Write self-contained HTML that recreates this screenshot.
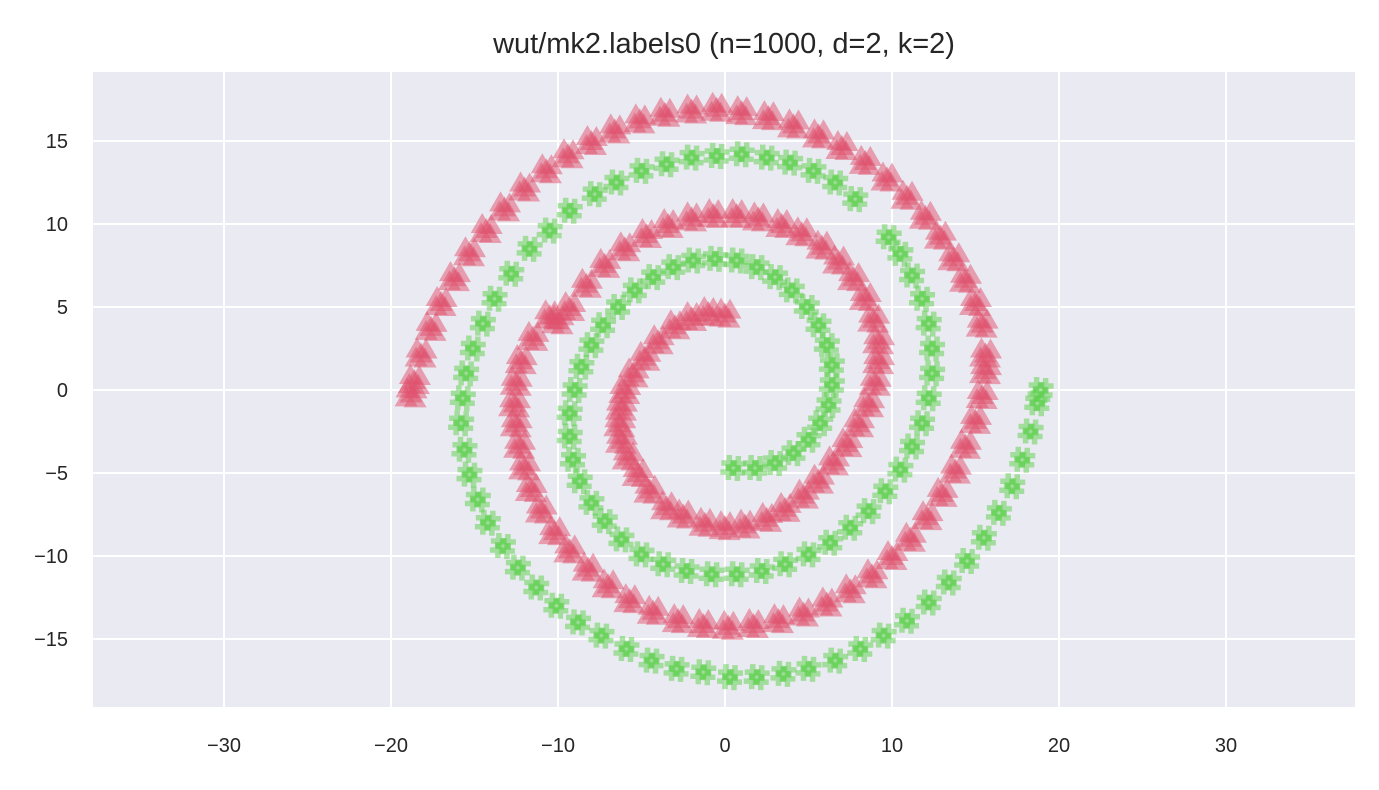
<!DOCTYPE html>
<html><head><meta charset="utf-8"><style>
body{margin:0;background:#fff;}
svg text{font-family:"Liberation Sans",sans-serif;fill:#262626;}
</style></head><body>
<svg id="chart" width="1379" height="785" xmlns="http://www.w3.org/2000/svg">
<rect x="0" y="0" width="1379" height="785" fill="#fff"/>
<text x="724" y="53" font-size="29" text-anchor="middle">wut/mk2.labels0 (n=1000, d=2, k=2)</text>
<rect x="93" y="72" width="1262" height="635" fill="#eaeaf2"/>
<g id="grid"></g><g id="marks"></g><g id="ticks"></g>
</svg>
<script>
const xTicks=[-30,-20,-10,0,10,20,30];
const yTicks=[15,10,5,0,-5,-10,-15];
const redX=[0,-1,-2,-3,-4,-4.8,-5.5,-6,-6.2,-6.3,-6.2,-5.8,-5.2,-4.5,-3.5,-2.5,-1.2,0,1.2,2.5,3.6,4.7,5.6,6.5,7.3,8,8.6,9,9.2,9.2,8.9,8.4,7.7,6.8,5.8,4.6,3.4,2,0.7,-0.7,-2,-3.4,-4.7,-6,-7.2,-8.3,-9.3,-10,-10.5,-11.5,-12.2,-12.5,-12.6,-12.5,-12.3,-12,-11.6,-11,-10.2,-9.3,-8.2,-7,-5.7,-4.3,-2.8,-1.3,0.2,1.7,3.2,4.7,6.1,7.5,8.8,10,11.1,12.1,13,13.8,14.4,15,15.4,15.6,15.6,15.4,15,14.4,13.7,12.9,12,10.9,9.7,8.4,7,5.6,4.1,2.6,1,-0.5,-2,-3.6,-5.1,-6.6,-8,-9.4,-10.7,-12,-13.2,-14.3,-15.3,-16.2,-17,-17.6,-18.2,-18.6,-18.8];
const redY=[4.6,4.7,4.4,3.9,3,2,1,0,-1,-2,-3,-4,-5,-6,-7,-7.5,-8,-8.2,-8.1,-7.7,-7.1,-6.3,-5.4,-4.3,-3.2,-2,-0.8,0.5,1.8,3,4.3,5.6,6.8,7.8,8.7,9.5,10,10.4,10.6,10.6,10.4,10,9.4,8.6,7.6,6.4,5,4.2,4.5,3.2,1.8,0.5,-0.8,-2,-3.3,-4.6,-5.9,-7.2,-8.5,-9.6,-10.7,-11.7,-12.6,-13.3,-13.8,-14.1,-14.2,-14.1,-13.8,-13.4,-12.8,-12,-11.1,-10,-8.9,-7.6,-6.2,-4.8,-3.3,-1.8,-0.3,1.2,2.2,4,5.3,6.7,8,9.3,10.5,11.7,12.8,13.8,14.7,15.4,16,16.5,16.8,17,16.9,16.7,16.3,15.7,15,14.2,13.3,12.2,11,9.7,8.3,6.8,5.3,3.8,2.2,0.6,-0.2];
const greenX=[0.5,1.8,3,4.1,5,5.7,6.2,6.4,6.4,6.1,5.6,4.9,4,3,1.9,0.7,-0.6,-1.9,-3.1,-4.3,-5.4,-6.4,-7.3,-8,-8.6,-9,-9.3,-9.3,-9.1,-8.7,-8,-7.2,-6.2,-5,-3.7,-2.3,-0.8,0.7,2.2,3.6,5,6.3,7.5,8.6,9.6,10.5,11.2,11.8,12.2,12.4,12.4,12.2,11.8,11.2,10.5,9.8,7.8,6.6,5.3,3.9,2.5,1,-0.5,-2,-3.5,-5,-6.5,-7.8,-9.3,-10.5,-11.7,-12.8,-13.8,-14.5,-15.1,-15.5,-15.7,-15.8,-15.6,-15.3,-14.8,-14.2,-13.3,-12.4,-11.3,-10.1,-8.8,-7.4,-5.9,-4.4,-2.9,-1.3,0.3,1.9,3.5,5,6.6,8.1,9.5,10.9,12.2,13.4,14.5,15.5,16.4,17.2,17.8,18.3,18.7,18.9];
const greenY=[-4.7,-4.7,-4.4,-3.8,-3,-2,-0.9,0.3,1.5,2.7,3.9,5,6,6.8,7.4,7.8,7.9,7.8,7.4,6.8,6,5,3.9,2.7,1.4,0,-1.4,-2.8,-4.2,-5.5,-6.8,-7.9,-9,-9.9,-10.5,-10.9,-11.1,-11.1,-10.9,-10.5,-9.9,-9.2,-8.3,-7.3,-6.1,-4.8,-3.4,-2,-0.5,1,2.5,4,5.5,6.9,8.2,9.2,11.5,12.5,13.2,13.7,14,14.2,14.1,14,13.6,13.2,12.5,11.8,10.8,9.6,8.5,7,5.5,4,2.5,1,-0.5,-2,-3.6,-5.1,-6.6,-8,-9.4,-10.7,-11.9,-13,-14,-14.8,-15.6,-16.3,-16.8,-17,-17.3,-17.3,-17.1,-16.8,-16.3,-15.6,-14.8,-13.9,-12.8,-11.6,-10.3,-8.9,-7.4,-5.8,-4.2,-2.5,-0.8,0];
const NS='http://www.w3.org/2000/svg';
const sx=v=>725+v*16.7, sy=v=>390-v*16.6;
const L=93,R=1355,T=72,B=707;
const spread=[[0,0],[-5,4],[5,-4],[4,5],[-4,-5]];
const grid=document.getElementById('grid'),marks=document.getElementById('marks'),ticks=document.getElementById('ticks');
function mk(tag,attrs,parent){const e=document.createElementNS(NS,tag);for(const k in attrs)e.setAttribute(k,attrs[k]);parent.appendChild(e);return e;}
xTicks.forEach(t=>{
  const l=mk('line',{x1:sx(t),x2:sx(t),y1:T,y2:B,stroke:'#fff','stroke-width':2},grid);
  
  
  const tx=mk('text',{x:sx(t),y:752,'font-size':20,'text-anchor':'middle'},ticks);
  tx.textContent=(t<0?'\u2212'+(-t):t);
  
  
});
yTicks.forEach(t=>{
  const l=mk('line',{x1:L,x2:R,y1:sy(t),y2:sy(t),stroke:'#fff','stroke-width':2},grid);
  
  
  const tx=mk('text',{x:68,y:sy(t)+7,'font-size':20,'text-anchor':'end'},ticks);
  tx.textContent=(t<0?'\u2212'+(-t):t);
  
  
});
redX.forEach((x,i)=>{
  const g=mk('g',{},marks);
  
  
  spread.forEach(o=>{
    const cx=sx(x)+o[0],cy=sy(redY[i])+o[1];
    mk('polygon',{points:`${cx},${cy-11} ${cx-11.5},${cy+9} ${cx+11.5},${cy+9}`,fill:'#e0506c','fill-opacity':0.5},g);
  });
});
greenX.forEach((x,i)=>{
  const g=mk('g',{},marks);
  
  
  spread.forEach(o=>{
    const cx=sx(x)+o[0],cy=sy(greenY[i])+o[1];
    mk('path',{d:`M${cx-8},${cy}H${cx+8}M${cx},${cy-8}V${cy+8}`,stroke:'#5ccf4a','stroke-width':5.5,'stroke-opacity':0.5,fill:'none'},g);
  });
});
</script>
</body></html>
